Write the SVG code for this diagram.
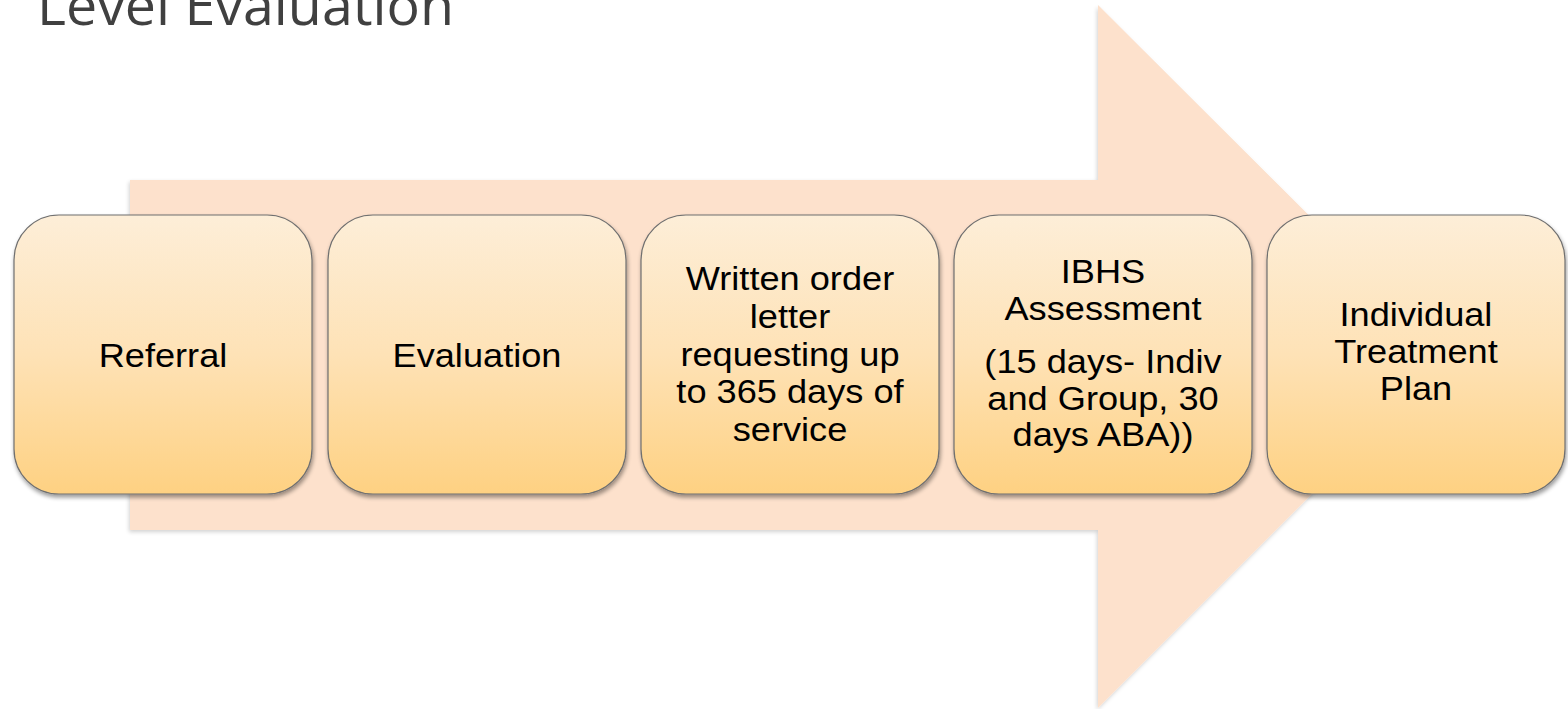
<svg xmlns="http://www.w3.org/2000/svg" width="1568" height="709" viewBox="0 0 1568 709">
  <defs>
    <linearGradient id="boxFill" x1="0" y1="0" x2="0" y2="1">
      <stop offset="0" stop-color="#fdeed8"/>
      <stop offset="0.5" stop-color="#fee2b6"/>
      <stop offset="1" stop-color="#fed182"/>
    </linearGradient>
    <filter id="boxShadow" x="-10%" y="-10%" width="120%" height="125%">
      <feGaussianBlur in="SourceAlpha" stdDeviation="2"/>
      <feOffset dx="1" dy="3" result="blur"/>
      <feComponentTransfer><feFuncA type="linear" slope="0.4"/></feComponentTransfer>
      <feMerge><feMergeNode/><feMergeNode in="SourceGraphic"/></feMerge>
    </filter>
    <filter id="arrowShadow" x="-5%" y="-5%" width="110%" height="110%">
      <feGaussianBlur in="SourceAlpha" stdDeviation="2"/>
      <feOffset dx="-1" dy="2" result="blur"/>
      <feComponentTransfer><feFuncA type="linear" slope="0.18"/></feComponentTransfer>
      <feMerge><feMergeNode/><feMergeNode in="SourceGraphic"/></feMerge>
    </filter>
  </defs>
  <style>
    .box { fill: url(#boxFill); stroke: #6f6f6f; stroke-width: 1.2; filter: url(#boxShadow); }
    .label { font-family: "Liberation Sans", Arial, sans-serif; font-size: 33.5px; fill: #000; text-anchor: middle; }
    .title { font-family: "Open Sans", "Noto Sans", sans-serif; font-size: 55.5px; fill: #404040; }
  </style>

  <rect width="1568" height="709" fill="#ffffff"/>

  <text class="title" x="37" y="25">Level Evaluation</text>

  <!-- background process arrow -->
  <g id="connectors">
    <path d="M130 180 H1098 V5 L1450 356 L1098 708 V530 H130 Z" fill="#fde1cc" filter="url(#arrowShadow)"/>
  </g>

  <!-- labels are widened 8% about each box centre -->
  <g id="referral">
    <rect class="box" x="14" y="215" width="298" height="279" rx="45" ry="45"/>
    <g transform="matrix(1.08 0 0 1 -13.04 0)">
      <text class="label" x="163" y="367">Referral</text>
    </g>
  </g>

  <g id="evaluation">
    <rect class="box" x="328" y="215" width="298" height="279" rx="45" ry="45"/>
    <g transform="matrix(1.08 0 0 1 -38.16 0)">
      <text class="label" x="477" y="367">Evaluation</text>
    </g>
  </g>

  <g id="written-order">
    <rect class="box" x="641" y="215" width="298" height="279" rx="45" ry="45"/>
    <g transform="matrix(1.08 0 0 1 -63.2 0)">
      <text class="label" x="790" y="290">Written order</text>
      <text class="label" x="790" y="328">letter</text>
      <text class="label" x="790" y="366">requesting up</text>
      <text class="label" x="790" y="403.5">to 365 days of</text>
      <text class="label" x="790" y="441">service</text>
    </g>
  </g>

  <g id="ibhs-assessment">
    <rect class="box" x="954" y="215" width="298" height="279" rx="45" ry="45"/>
    <g transform="matrix(1.08 0 0 1 -88.24 0)">
      <text class="label" x="1103" y="283">IBHS</text>
      <text class="label" x="1103" y="320">Assessment</text>
      <text class="label" x="1103" y="373">(15 days- Indiv</text>
      <text class="label" x="1103" y="410">and Group, 30</text>
      <text class="label" x="1103" y="446.5">days ABA))</text>
    </g>
  </g>

  <g id="treatment-plan">
    <rect class="box" x="1267" y="215" width="298" height="279" rx="45" ry="45"/>
    <g transform="matrix(1.08 0 0 1 -113.28 0)">
      <text class="label" x="1416" y="326">Individual</text>
      <text class="label" x="1416" y="363">Treatment</text>
      <text class="label" x="1416" y="400">Plan</text>
    </g>
  </g>
</svg>
